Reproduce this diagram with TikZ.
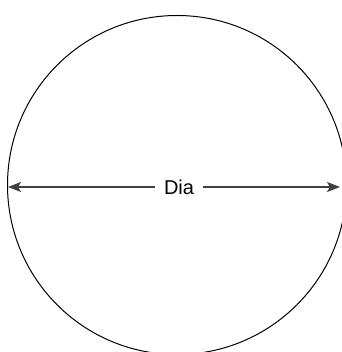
\documentclass[tikz,border=0pt]{standalone}
\usepackage{fontspec}
\setmainfont{Liberation Sans}
\usetikzlibrary{arrows.meta}
\begin{document}
\begin{tikzpicture}[>={Stealth[length=13pt, width=10pt, inset=3pt]}, x=1pt, y=1pt]
\useasboundingbox (0,0) rectangle (341,352);
% Kreis
\node[circle, draw, line width=1pt, minimum size=339pt, inner sep=0pt] (kreis) at (177,167) {};
% Durchmesser
\node[fill=white, inner xsep=9pt, font=\fontsize{20}{24}\selectfont] (dia) at (179,165) {Dia};
\coordinate (links) at (8,165);
\coordinate (rechts) at (340,165);
\draw[->, line width=1.3pt, black!75] (dia) -- (links);
\draw[->, line width=1.3pt, black!75] (dia) -- (rechts);
\end{tikzpicture}
\end{document}
